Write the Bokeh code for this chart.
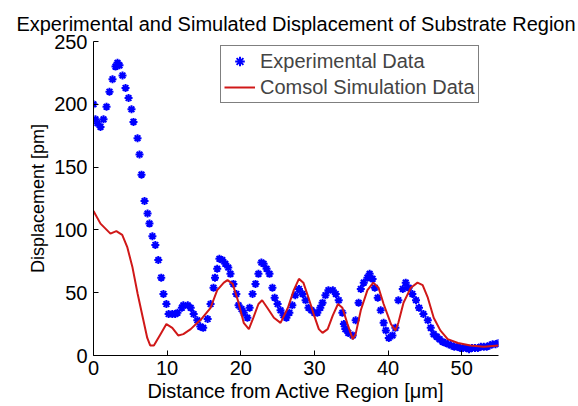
from bokeh.plotting import figure
from bokeh.models import Range1d, Legend, LegendItem, FixedTicker, Title
from bokeh.embed import file_html
from bokeh.resources import INLINE

exp_x = [0.0, 0.27, 0.54, 0.95, 1.36, 1.77, 2.17, 2.58, 2.99, 3.26, 3.53, 3.94, 4.35, 4.76, 5.16, 5.43,
         5.98, 6.25, 6.52, 6.93, 7.34, 7.6, 8.0, 8.4, 8.8, 9.2, 9.5, 9.9, 10.2, 10.7, 11.1, 11.4, 12.0,
         12.2, 12.8, 13.2, 13.6, 14.1, 14.5, 14.9, 15.5, 15.9, 16.3, 16.5, 16.8, 17.1, 17.5, 17.9, 18.3,
         18.6, 19.0, 19.4, 19.7, 20.1, 20.4, 20.9, 21.2, 21.6, 22.0, 22.4, 22.8, 23.1, 23.5, 23.9, 24.3,
         24.6, 25.0, 25.4, 25.8, 26.2, 26.6, 27.0, 27.4, 27.9, 28.4, 28.8, 29.2, 29.6, 30.0, 30.4, 30.8,
         31.1, 31.5, 31.9, 32.5, 32.9, 33.3, 33.8, 34.0, 34.2, 34.6, 35.2, 35.6, 36.0, 36.3, 36.7, 37.2,
         37.5, 37.9, 38.2, 38.6, 39.0, 39.4, 39.7, 40.1, 40.6, 41.0, 41.4, 42.0, 42.4, 42.8, 43.3, 43.8,
         44.2, 44.8, 45.4, 45.8, 46.2, 46.6, 47.0, 47.4, 47.8, 48.2, 48.6, 49.0, 49.4, 49.8, 50.2, 50.6,
         51.0, 51.4, 51.8, 52.2, 52.6, 53.0, 53.4, 53.8, 54.2, 54.6, 55.0]
exp_y = [200, 188, 185, 182, 188, 198, 210, 220, 230, 233, 231, 223, 213, 205, 196, 186,
         173, 160, 144, 123, 113, 105, 95, 88, 76, 62, 49, 41, 33, 33, 33, 34, 38,
         40, 40, 38, 33, 28, 23, 22, 29, 41, 54, 62, 69, 77, 76, 73, 70,
         65, 57, 49, 40, 37, 34, 30, 38, 49, 57, 65, 74, 73, 69, 65, 54,
         46, 41, 36, 32, 30, 34, 40, 48, 53, 49, 44, 38, 36, 34, 34, 38,
         42, 48, 52, 52, 49, 44, 34, 25, 21, 18, 16, 28, 42, 53, 58, 62,
         65, 61, 54, 46, 36, 26, 20, 14, 16, 22, 44, 53, 58, 54, 49, 44,
         38, 33, 28, 22, 17, 15, 13, 11, 10, 9, 8, 7, 7, 6, 6, 6,
         5, 6, 6, 6, 7, 7, 7, 8, 9, 9, 10]

sim_x = [0, 0.95, 2.3, 3.1, 3.9, 4.6, 5.3, 6.0, 6.7, 7.3, 7.7, 8.2, 9.1, 9.9, 10.7, 11.5, 12.2,
         13.2, 14.1, 14.5, 15.9, 16.8, 17.7, 18.2, 18.9, 19.6, 20.4, 21.1, 21.7, 22.4, 22.9, 23.6,
         24.5, 25.4, 26.4, 27.2, 27.9, 28.5, 29.2, 29.9, 30.6, 31.1, 31.8, 32.5, 33.2, 33.8, 34.5,
         35.2, 35.6, 36.3, 37.2, 38.0, 38.7, 39.4, 40.4, 41.0, 41.4, 42.1, 43.1, 44.0, 44.7, 45.4,
         46.2, 47.1, 48.1, 49.5, 51.2, 53.0, 55.0]
sim_y = [115, 105, 97, 99, 96, 86, 70, 49, 30, 14, 8, 8, 17, 25, 22, 16, 17,
         21, 26, 28, 38, 52, 58, 60, 57, 44, 26, 21, 30, 41, 44, 38,
         30, 26, 38, 52, 61, 58, 46, 33, 21, 18, 21, 32, 41, 38, 25,
         13, 17, 36, 52, 58, 54, 41, 25, 20, 26, 42, 54, 58, 56, 46,
         30, 20, 13, 10, 8, 7, 8]

x_ticks = [0, 10, 20, 30, 40, 50]
y_ticks = [0, 50, 100, 150, 200, 250]

FONT = "Liberation Sans"

p = figure(width=578, height=406, output_backend="svg", toolbar_location=None,
           x_range=Range1d(0, 55), y_range=Range1d(0, 250),
           min_border_left=93, min_border_right=80, min_border_top=41, min_border_bottom=51)
p.title = Title(text="Experimental and Simulated Displacement of Substrate Region",
                align="center", text_font=FONT, text_font_size="20px",
                text_font_style="normal", text_color="black", offset=-4, standoff=13)

p.outline_line_color = None
p.grid.visible = False
p.background_fill_color = "white"
p.border_fill_color = "white"

for ax in (p.xaxis[0], p.yaxis[0]):
    ax.axis_line_color = "black"
    ax.major_tick_line_color = "black"
    ax.major_tick_in = 5
    ax.major_tick_out = 0
    ax.minor_tick_line_color = None
    ax.major_label_text_font = FONT
    ax.major_label_text_font_size = "20px"
    ax.major_label_text_color = "black"
    ax.axis_label_text_font = FONT
    ax.axis_label_text_font_style = "normal"
    ax.axis_label_text_color = "black"

p.xaxis.ticker = FixedTicker(ticks=x_ticks)
p.yaxis.ticker = FixedTicker(ticks=y_ticks)
p.xaxis.axis_label = "Distance from Active Region [μm]"
p.yaxis.axis_label = "Displacement [pm]"
p.xaxis.axis_label_text_font_size = "20px"
p.yaxis.axis_label_text_font_size = "18px"
p.xaxis.major_label_standoff = 5
p.yaxis.major_label_standoff = 6
p.xaxis.axis_label_standoff = 2
p.yaxis.axis_label_standoff = 3

r_exp = p.scatter(exp_x, exp_y, marker="asterisk", size=8, line_color="#0000ff",
                  line_width=2, fill_color="#0000ff")
r_sim = p.line(sim_x, sim_y, line_color="#d01818", line_width=2)

legend = Legend(items=[LegendItem(label="Experimental Data", renderers=[r_exp]),
                       LegendItem(label="Comsol Simulation Data", renderers=[r_sim])],
                location=(127, 252))
legend.label_text_font = FONT
legend.label_text_font_size = "20px"
legend.label_height = 24
legend.glyph_height = 24
legend.glyph_width = 31
legend.spacing = 2
legend.padding = 3
legend.margin = 0
legend.label_standoff = 5
legend.border_line_color = "black"
legend.border_line_width = 1
legend.background_fill_alpha = 1
legend.label_text_baseline = "middle"
p.add_layout(legend, "center")

open("out.html", "w").write(file_html(p, INLINE))
